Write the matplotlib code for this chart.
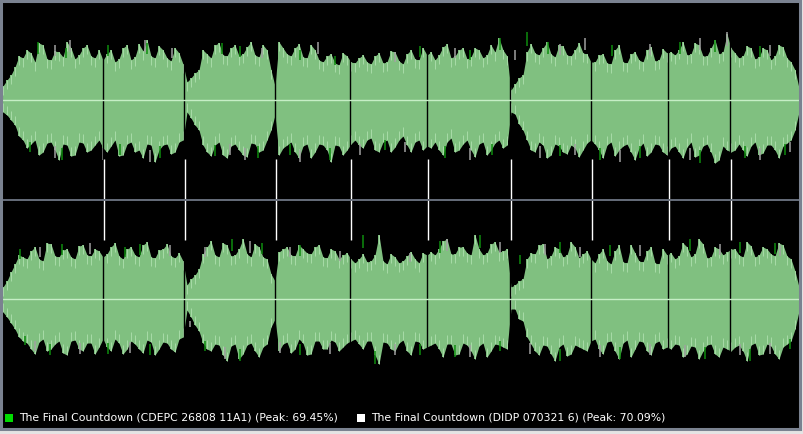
import numpy as np
import matplotlib.pyplot as plt
from matplotlib.patches import Rectangle
from matplotlib.lines import Line2D

# waveform peaks, one value every 4 columns; the lists hold the two interleaved
# phases: *_a -> columns 3, 11, 19, ...   *_b -> columns 7, 15, 23, ...
cols = np.arange(3, 800, 4)

# track starts (column)
track_marks = [104, 185, 276, 351, 428, 511, 592, 669, 731]

# amplitudes in % of full scale; *_hi = positive peak, *_lo = depth of negative peak
left_hi_a = [14, 25, 44, 50, 38, 55, 40, 48, 58, 41, 52, 44, 50,
             46, 38, 52, 40, 56, 60, 42, 50, 39, 47,
             18, 27, 50, 42, 57, 44, 55, 46, 58, 43, 50, 14,
             52, 44, 56, 42, 50, 38, 46, 35, 44,
             37, 45, 36, 47, 38, 48, 36, 50, 40, 45,
             40, 53, 42, 50, 41, 52, 42, 55, 62, 44,
             16, 25, 56, 45, 58, 43, 54, 44, 57, 46,
             38, 46, 36, 55, 37, 48, 38, 53, 40, 47,
             45, 58, 46, 55, 44, 60, 48, 52,
             42, 54, 41, 52, 40, 55, 42, 30]
left_hi_b = [20, 33, 42, 47, 57, 41, 49, 43, 52, 45, 55, 42, 40,
             50, 41, 55, 43, 49, 44, 54, 42, 52, 36,
             22, 30, 46, 55, 45, 52, 44, 53, 45, 55, 30,
             58, 46, 52, 43, 55, 40, 44, 37, 47, 38,
             42, 38, 44, 37, 49, 39, 46, 41, 52,
             48, 45, 56, 44, 52, 43, 50, 45, 48, 50, 10,
             22, 48, 47, 52, 46, 55, 45, 50, 47, 38,
             45, 37, 50, 38, 46, 40, 50, 39, 51,
             48, 50, 45, 57, 44, 52, 46, 66,
             47, 44, 52, 43, 50, 44, 53, 38, 12]
left_lo_a = [12, 20, 36, 48, 40, 52, 42, 60, 45, 55, 43, 50, 40,
             52, 40, 55, 42, 50, 44, 62, 45, 54, 42,
             12, 25, 45, 56, 42, 58, 44, 55, 43, 52, 40, 15,
             48, 42, 58, 44, 52, 45, 62, 46, 50,
             40, 48, 38, 52, 40, 47, 36, 52, 40, 46,
             42, 55, 38, 50, 40, 57, 42, 50, 40, 45,
             14, 30, 50, 42, 58, 44, 52, 45, 57, 43,
             44, 58, 42, 50, 44, 60, 43, 52, 45, 55,
             46, 58, 42, 55, 44, 63, 46, 52,
             44, 56, 42, 53, 45, 58, 43, 30]
left_lo_b = [15, 25, 40, 44, 55, 43, 50, 44, 56, 42, 52, 45, 48,
             46, 56, 44, 52, 58, 45, 50, 44, 52, 40,
             18, 30, 52, 45, 55, 46, 50, 57, 44, 50, 30,
             55, 45, 52, 46, 58, 44, 50, 45, 55, 44,
             45, 40, 50, 42, 52, 40, 45, 42, 50,
             48, 50, 42, 52, 44, 50, 44, 55, 43, 48, 12,
             24, 40, 52, 45, 55, 46, 54, 48, 50, 40,
             50, 45, 56, 46, 52, 48, 56, 44, 52,
             48, 52, 47, 57, 46, 52, 60, 50,
             50, 50, 46, 55, 45, 50, 46, 40, 12]

right_hi_a = [12, 27, 44, 40, 52, 38, 55, 42, 50, 40, 54, 43, 48,
              45, 56, 40, 52, 42, 57, 41, 50, 43, 46,
              14, 24, 45, 58, 42, 54, 44, 60, 42, 52, 40, 18,
              50, 44, 54, 46, 52, 42, 50, 40, 46,
              36, 45, 38, 64, 35, 42, 38, 47, 36, 44,
              44, 58, 45, 52, 46, 64, 44, 55, 47, 50,
              14, 20, 46, 54, 40, 52, 42, 57, 41, 48,
              36, 50, 35, 54, 36, 46, 37, 52, 35, 44,
              40, 56, 42, 60, 41, 52, 44, 50,
              44, 57, 42, 52, 45, 56, 43, 28]
right_hi_b = [18, 35, 42, 48, 40, 56, 43, 49, 42, 53, 44, 50, 42,
              52, 43, 50, 44, 54, 42, 49, 55, 41, 38,
              20, 30, 52, 44, 56, 43, 50, 45, 55, 42, 25,
              47, 52, 43, 50, 45, 54, 41, 48, 44, 40,
              40, 37, 44, 38, 45, 36, 43, 40, 46,
              47, 50, 60, 45, 52, 44, 50, 46, 57, 48, 12,
              18, 40, 45, 55, 43, 50, 44, 52, 45, 40,
              45, 38, 48, 37, 54, 38, 48, 36, 50,
              46, 43, 52, 45, 55, 42, 50, 47,
              50, 42, 53, 44, 50, 43, 54, 40, 12]
right_lo_a = [13, 24, 38, 44, 55, 40, 50, 42, 56, 41, 52, 44, 48,
              48, 40, 55, 42, 50, 41, 56, 43, 50, 40,
              11, 26, 44, 52, 46, 62, 45, 55, 44, 58, 45, 20,
              45, 54, 40, 56, 42, 50, 41, 52, 44,
              40, 50, 42, 65, 44, 52, 41, 56, 43, 48,
              44, 58, 45, 55, 46, 60, 44, 52, 46, 50,
              10, 22, 45, 56, 47, 62, 45, 55, 48, 52,
              40, 55, 42, 60, 41, 50, 43, 56, 42, 48,
              45, 58, 47, 60, 46, 55, 48, 52,
              46, 62, 44, 55, 47, 60, 45, 30]
right_lo_b = [18, 30, 42, 50, 43, 52, 45, 54, 42, 50, 44, 55, 40,
              52, 44, 50, 45, 54, 43, 50, 44, 53, 38,
              18, 32, 50, 45, 56, 47, 60, 46, 52, 48, 28,
              52, 43, 50, 44, 55, 42, 50, 43, 48, 42,
              45, 42, 56, 43, 50, 44, 52, 42, 50,
              46, 50, 45, 56, 44, 52, 47, 58, 45, 48, 10,
              20, 38, 52, 46, 55, 48, 57, 46, 50, 42,
              50, 43, 52, 44, 58, 42, 52, 44, 50,
              50, 46, 55, 48, 52, 45, 58, 50,
              48, 52, 46, 56, 45, 55, 48, 42, 12]

# peaks where only one rip reaches (signed amplitude, %)
left_cdepc_x = [38, 66, 108, 147, 222, 240, 300, 335, 420, 470, 500, 527, 548, 612, 680, 715, 760,
                30, 62, 120, 160, 215, 258, 290, 330, 385, 445, 492, 560, 600, 640, 700, 745, 785]
left_cdepc_y = [58, 52, 55, 57, 57, 54, 50, 44, 54, 50, 62, 68, 58, 55, 58, 60, 54,
                -52, -60, -55, -58, -56, -58, -55, -60, -50, -58, -55, -56, -60, -58, -63, -58, -55]
left_didp_x = [55, 70, 145, 172, 262, 318, 395, 455, 515, 560, 585, 650, 700, 727, 770,
               55, 103, 150, 230, 245, 300, 360, 405, 470, 540, 575, 620, 690, 760, 790]
left_didp_y = [55, 60, 60, 52, 52, 58, 48, 52, 50, 56, 62, 56, 62, 68, 55,
               -58, -60, -62, -55, -60, -62, -55, -52, -60, -58, -55, -62, -60, -60, -52]
right_cdepc_x = [20, 62, 125, 140, 232, 262, 300, 363, 440, 480, 520, 560, 610, 690, 740, 775,
                 25, 50, 108, 150, 205, 240, 300, 375, 420, 455, 500, 560, 620, 705, 750, 790]
right_cdepc_y = [50, 55, 52, 55, 60, 56, 54, 64, 58, 64, 44, 57, 54, 60, 57, 56,
                 -46, -56, -55, -56, -52, -62, -56, -65, -56, -58, -52, -62, -60, -60, -62, -50]
right_didp_x = [40, 90, 170, 205, 250, 290, 340, 410, 447, 500, 545, 580, 640, 720, 780,
                35, 80, 130, 190, 225, 280, 330, 395, 470, 530, 600, 650, 685, 740, 770]
right_didp_y = [52, 56, 54, 52, 58, 52, 48, 46, 60, 57, 55, 52, 54, 55, 54,
                -52, -55, -54, -28, -60, -54, -55, -56, -58, -55, -58, -56, -58, -56, -55]

labels = ["The Final Countdown (CDEPC 26808 11A1) (Peak: 69.45%)",
          "The Final Countdown (DIDP 070321 6) (Peak: 70.09%)"]

W, H = 804, 434
fig = plt.figure(figsize=(W / 100, H / 100), dpi=100, facecolor='#e4e4e4')
fig.add_artist(Rectangle((0, 1 - 430 / H), 800 / W, 430 / H, transform=fig.transFigure,
                         facecolor='black', edgecolor='none', zorder=-5))


def channel_axes(top_px, bot_px):
    ax = fig.add_axes([0, 1 - bot_px / H, 1, (bot_px - top_px) / H])
    ax.set_xlim(0, W)
    ax.set_ylim(-99, 99)
    ax.set_facecolor('none')
    ax.axis('off')
    return ax


ax_top = channel_axes(1, 199)
ax_bot = channel_axes(200, 398)

wave_green = '#80c080'
for ax, hi_a, hi_b, lo_a, lo_b, gx, gy, wx, wy in [
        (ax_top, left_hi_a, left_hi_b, left_lo_a, left_lo_b,
         left_cdepc_x, left_cdepc_y, left_didp_x, left_didp_y),
        (ax_bot, right_hi_a, right_hi_b, right_lo_a, right_lo_b,
         right_cdepc_x, right_cdepc_y, right_didp_x, right_didp_y)]:
    hi = np.column_stack([hi_a, hi_b]).ravel()
    lo = np.column_stack([lo_a, lo_b]).ravel()
    ax.fill_between(cols, -lo, hi, color=wave_green, lw=0, zorder=1)
    ax.vlines(cols, -lo, hi, color=wave_green, lw=1.4, zorder=2)
    # pale highlight on the spike tips
    ax.vlines(cols, hi - 9, hi, color='#b2e2b2', lw=0.55, zorder=2)
    ax.vlines(cols, -lo, -lo + 9, color='#b2e2b2', lw=0.55, zorder=2)
    gy = np.array(gy)
    wy = np.array(wy)
    ax.vlines(gx, gy * 0.8, gy, color='#0e8c0e', lw=1.1, zorder=3)
    ax.vlines(wx, wy * 0.8, wy, color='#a0a0a0', lw=1.1, zorder=3)
    # small gap at each track change
    ax.vlines(np.array(track_marks) - 1, -70, 70, color='black', lw=1, zorder=4)
    ax.axhline(0, xmin=3 / W, xmax=800 / W, color='#c6eec6', lw=1, zorder=5)

ax_top.vlines(track_marks, -99, -59, color='white', lw=1, zorder=6)
ax_bot.vlines(track_marks, 59, 99, color='white', lw=1, zorder=6)

# channel divider
fig.add_artist(Line2D([0, 800 / W], [1 - 199.5 / H] * 2, color='#6e7684', lw=1.3, zorder=6))
# window border
fig.add_artist(Rectangle((0.5 / W, 1 - 429 / H), 799.5 / W, 428.5 / H, transform=fig.transFigure,
                         fill=False, edgecolor='#7a8290', lw=2.2, zorder=7))

# legend
ly = 1 - 418 / H
fig.add_artist(Rectangle((5 / W, 1 - 422 / H), 8 / W, 8 / H, transform=fig.transFigure,
                         facecolor='#00dc00', edgecolor='none'))
fig.text(19 / W, ly, labels[0], color='white', fontsize=7.8, va='center', family='DejaVu Sans')
fig.add_artist(Rectangle((357 / W, 1 - 422 / H), 8 / W, 8 / H, transform=fig.transFigure,
                         facecolor='white', edgecolor='none'))
fig.text(371 / W, ly, labels[1], color='white', fontsize=7.8, va='center', family='DejaVu Sans')

fig.savefig('out.png', dpi=100, facecolor=fig.get_facecolor())
